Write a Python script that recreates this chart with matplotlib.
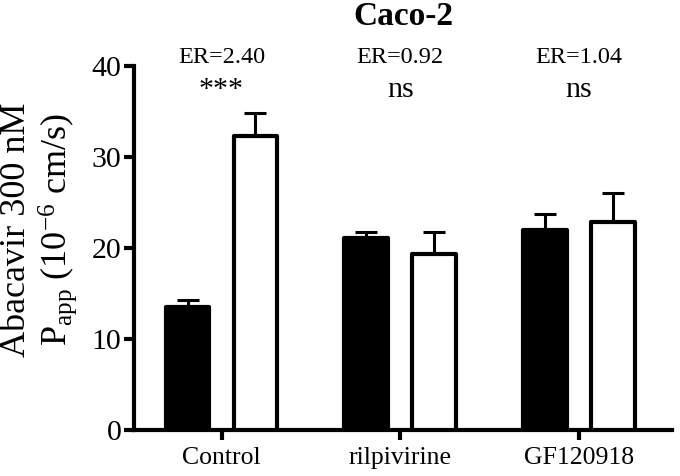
import matplotlib
matplotlib.use('Agg')
import matplotlib.pyplot as plt
import numpy as np

plt.rcParams['font.family'] = ['Liberation Serif', 'DejaVu Serif']
plt.rcParams['mathtext.fontset'] = 'custom'
plt.rcParams['mathtext.rm'] = 'Liberation Serif'
plt.rcParams['mathtext.it'] = 'Liberation Serif:italic'

# data
groups = ['Control', 'rilpivirine', 'GF120918']
ab_mean = [13.5, 21.1, 22.0]     # black bars
ab_err = [0.8, 0.7, 1.8]
ba_mean = [32.3, 19.3, 22.9]     # white bars
ba_err = [2.6, 2.5, 3.2]
er_labels = ['ER=2.40', 'ER=0.92', 'ER=1.04']
sig_labels = ['***', 'ns', 'ns']

x = np.arange(len(groups))
w = 0.245
off = 0.19

fig = plt.figure(figsize=(6.8, 4.76), dpi=100)
ax = fig.add_axes([0.197, 0.0966, 0.791, 0.7644])

ax.bar(x - off, ab_mean, w, color='black', edgecolor='black', linewidth=3,
       joinstyle='round', zorder=3)
ax.bar(x + off, ba_mean, w, color='white', edgecolor='black', linewidth=3,
       joinstyle='round', zorder=3)
ax.errorbar(x - off, ab_mean, yerr=[np.zeros(3), ab_err], fmt='none',
            ecolor='black', elinewidth=2.2, capsize=8, capthick=2.2, zorder=2)
ax.errorbar(x + off, ba_mean, yerr=[np.zeros(3), ba_err], fmt='none',
            ecolor='black', elinewidth=2.2, capsize=8, capthick=2.2, zorder=2)

ax.set_xlim(-0.49, 2.52)
ax.set_ylim(0, 40)
ax.set_yticks([0, 10, 20, 30, 40])
ax.set_xticks(x)
ax.set_xticklabels(groups, fontsize=18.5)
ax.tick_params(axis='y', labelsize=21.5, width=3, length=7, pad=2)
ax.tick_params(axis='x', width=3, length=7, pad=5)
for s in ['top', 'right']:
    ax.spines[s].set_visible(False)
for s in ['left', 'bottom']:
    ax.spines[s].set_linewidth(3)

for i in range(len(groups)):
    ax.text(x[i], 40.9, er_labels[i], ha='center', va='center', fontsize=17.5,
            clip_on=False)
    ax.text(x[i], 37.4, sig_labels[i], ha='center', va='center', fontsize=21.5,
            clip_on=False)

fig.text((0.197 + 0.988) / 2, 0.966, 'Caco-2', ha='center',
         va='center', fontsize=24, fontweight='bold')
fig.text(17 / 680, 1 - 230 / 476, 'Abacavir 300 nM', rotation=90,
         ha='center', va='center', fontsize=26)
fig.text(58 / 680, 1 - 230 / 476, r'P$_{\rm app}$ (10$^{-6}$ cm/s)',
         rotation=90, ha='center', va='center', fontsize=26)

plt.savefig('out.png', dpi=100)
plt.close()
